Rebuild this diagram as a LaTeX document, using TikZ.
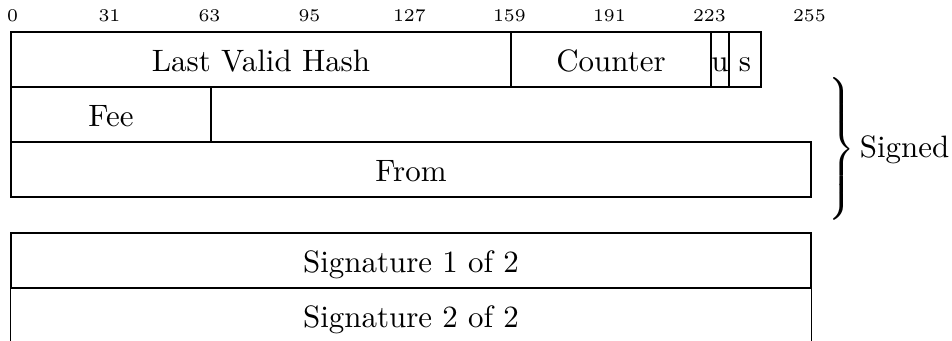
\documentclass[tikz,border=0pt]{standalone}
\usetikzlibrary{calc}
\begin{document}
\begin{tikzpicture}[x=0.3361pt,y=-0.3361pt,
  every node/.style={font=\fontsize{10.4}{12.5}\selectfont},
  field/.style={draw, rectangle, inner sep=0pt, line width=0.45pt,
    minimum height=55*0.3361pt, text height=8.8pt, text depth=0.6pt},
  bitlbl/.style={inner sep=0pt, anchor=base, font=\fontsize{6}{7}\selectfont}]
\useasboundingbox (0,0) rectangle (952,341);
\clip (0,0) rectangle (952,341);
% bit header
\foreach \k in {0,31,63,95,127,159,191,223,255}{
  \node[bitlbl] (b\k) at ({11+(\k+0.5)*3.125},21.7) {\k};
}
% row 1
\node[field, minimum width=500*0.3361pt] (lvh) at (261,59.5) {Last Valid Hash};
\node[field, minimum width=200*0.3361pt] (ctr) at (611,59.5) {Counter};
\node[field, minimum width=18*0.3361pt] (u) at (720,59.5) {u};
\node[field, minimum width=32*0.3361pt] (s) at (745,59.5) {s};
% row 2
\node[field, minimum width=200*0.3361pt] (fee) at (111,114.5) {Fee};
% row 3
\node[field, minimum width=800*0.3361pt] (from) at (411,169.5) {From};
% signatures
\node[field, minimum width=800*0.3361pt] (sig1) at (411,260.5) {Signature 1 of 2};
\node[field, draw=none, minimum width=800*0.3361pt] (sig2) at (411,315.5) {Signature 2 of 2};
\draw[line width=0.45pt] (sig2.south west) -- (sig2.north west) -- (sig2.north east) -- (sig2.south east);
% brace
\node[inner sep=0pt, anchor=west] (brace) at (824,150) {$\left.\rule[-22pt]{0pt}{44pt}\right\}$};
\node[inner sep=0pt, anchor=west] (signed) at ($(brace.east)+(4,0)$) {Signed};
\end{tikzpicture}
\end{document}
